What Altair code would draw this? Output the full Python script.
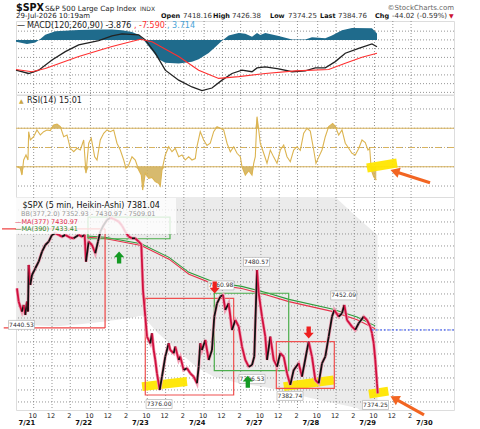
import altair as alt
import numpy as np
import pandas as pd

FONT = "DejaVu Sans"

# ---------------- data (x = trading sessions counted from the 7/21 open) ----------------
X_DOMAIN = [-0.204, 7.507]
DATES = ["7/21", "7/22", "7/23", "7/24", "7/27", "7/28", "7/29", "7/30"]
HOUR_LABELS = ["10", "12", "2"]
HOUR_OFFSETS = [0.107, 0.430, 0.751]

PRICE_T = [-0.187, -0.157, -0.099, -0.069, -0.040, -0.011, 0.007, 0.019, 0.048, 0.077,
           0.136, 0.195, 0.254, 0.312, 0.371, 0.430, 0.488, 0.547, 0.606, 0.664,
           0.752, 0.811, 0.899, 0.958, 1.005, 1.028, 1.075, 1.134, 1.192, 1.239,
           1.280, 1.340, 1.398, 1.456, 1.516, 1.604, 1.662, 1.720, 1.780, 1.838,
           1.896, 1.956, 2.002, 2.032, 2.072, 2.102, 2.160, 2.190, 2.220, 2.248,
           2.278, 2.326, 2.366, 2.424, 2.484, 2.512, 2.572, 2.600, 2.660, 2.688,
           2.748, 2.806, 2.864, 2.924, 2.982, 3.012, 3.040, 3.070, 3.129, 3.188,
           3.246, 3.287, 3.335, 3.393, 3.440, 3.481, 3.540, 3.599, 3.657, 3.717,
           3.775, 3.833, 3.893, 3.951, 3.991, 4.039, 4.069, 4.127, 4.185, 4.215,
           4.273, 4.333, 4.391, 4.449, 4.509, 4.567, 4.625, 4.685, 4.773, 4.831,
           4.919, 4.949, 5.007, 5.065, 5.125, 5.183, 5.241, 5.301, 5.359, 5.400,
           5.477, 5.535, 5.576, 5.623, 5.711, 5.769, 5.829, 5.917, 5.975, 6.033,
           6.063, 6.093, 6.121, 6.151, 6.164]
PRICE = [7464.7, 7453.6, 7445.3, 7450.8, 7442.5, 7453.6, 7445.3, 7484.2, 7467.5, 7475.8,
         7481.4, 7486.9, 7495.3, 7500.8, 7503.6, 7509.2, 7510.6, 7509.2, 7507.8, 7509.2,
         7506.9, 7506.4, 7509.2, 7507.8, 7509.2, 7486.9, 7503.6, 7500.8, 7493.9, 7503.6,
         7511.9, 7517.5, 7521.7, 7523.6, 7522.5, 7520.3, 7516.9, 7511.9, 7507.8, 7506.4,
         7506.4, 7503.6, 7501.4, 7463.3, 7441.1, 7424.4, 7418.9, 7427.2, 7413.3, 7405.0,
         7393.9, 7380.0, 7391.1, 7407.8, 7418.9, 7413.3, 7410.6, 7416.1, 7405.0, 7407.8,
         7396.7, 7398.1, 7393.9, 7391.1, 7385.6, 7399.4, 7418.9, 7413.3, 7421.7, 7405.0,
         7413.3, 7441.1, 7452.2, 7457.8, 7459.2, 7446.7, 7452.2, 7430.0, 7438.3, 7432.8,
         7416.1, 7405.0, 7399.4, 7400.8, 7407.8, 7480.0, 7460.6, 7441.1, 7424.4, 7405.0,
         7424.4, 7405.0, 7399.4, 7410.6, 7407.8, 7393.9, 7384.2, 7396.7, 7402.2, 7391.1,
         7413.3, 7420.3, 7407.8, 7388.3, 7385.6, 7402.2, 7407.8, 7424.4, 7441.1, 7446.7,
         7441.1, 7443.9, 7450.8, 7438.3, 7432.8, 7430.0, 7435.6, 7441.1, 7438.3, 7432.8,
         7427.2, 7418.9, 7405.0, 7385.6, 7377.2]

MA_T = [1.05, 1.36, 2.00, 2.49, 2.84, 3.30, 3.77, 4.21, 4.60, 5.36, 5.80, 6.12]
MA390 = [7508.3, 7507.3, 7501.8, 7490.5, 7478.0, 7469.5, 7466.3, 7461.0, 7455.5, 7447.5, 7440.8, 7433.4]
MA377 = [7507.3, 7506.2, 7500.4, 7489.0, 7476.5, 7467.8, 7464.6, 7459.2, 7453.6, 7445.5, 7438.6, 7431.0]

BB_T = [-0.204, 0.08, 0.52, 0.96, 1.36, 1.80, 2.02, 2.28, 2.63, 2.98, 3.28, 3.69, 4.22, 4.66, 5.18, 5.41, 5.80, 6.16]
BB_UPPER = [7566, 7568, 7570, 7572, 7572, 7571, 7570, 7570, 7568, 7565, 7562, 7558, 7554, 7550, 7545, 7541, 7524, 7509.01]
BB_LOWER = [7435, 7434, 7433, 7435, 7437, 7440, 7442, 7428, 7413, 7399, 7391, 7386, 7382, 7377, 7371, 7369, 7365, 7352.93]

HIST_T = [-0.204, -0.011, 0.136, 0.224, 0.312, 0.488, 0.900, 1.252, 1.486, 1.662,
          1.838, 1.956, 2.044, 2.190, 2.308, 2.424, 2.660, 2.894, 3.012, 3.188,
          3.305, 3.423, 3.540, 3.717, 3.833, 3.951, 4.039, 4.097, 4.185, 4.421,
          4.655, 4.889, 5.007, 5.241, 5.359, 5.535, 5.711, 6.063, 6.151]
HIST = [-1.0, -2.3, -1.5, 0.5, 3.0, 5.0, 5.7, 5.9, 5.9, 5.5,
        4.5, 3.0, 0.0, -6.0, -11.0, -13.0, -13.5, -12.5, -11.0, -7.5,
        -4.0, -0.5, 2.5, 4.0, 3.5, 1.8, 4.0, 2.8, 4.0, 2.2,
        0.3, 0.2, 1.5, 1.0, 2.5, 5.5, 6.8, 6.7, 3.7]
MACD_T = [-0.204, 0.019, 0.195, 0.430, 0.664, 0.900, 1.252, 1.486, 1.662, 1.956,
          2.072, 2.248, 2.424, 2.660, 2.894, 3.070, 3.246, 3.423, 3.599, 3.775,
          3.951, 4.039, 4.185, 4.421, 4.655, 4.889, 5.065, 5.241, 5.417, 5.593,
          5.829, 6.063, 6.151]
MACD_LINE = [-17.3, -19.2, -17.3, -11.5, -6.7, -2.9, -0.4, 2.3, 3.4, 2.9,
             0.0, -7.6, -17.3, -23.0, -26.9, -29.0, -27.5, -23.0, -19.2, -17.3,
             -18.2, -16.0, -15.4, -16.5, -18.2, -17.7, -16.0, -16.0, -12.4, -7.6,
             -4.8, -2.3, -3.9]
SIG_T = [-0.204, 0.077, 0.312, 0.900, 1.486, 1.985, 2.190, 2.660, 3.012, 3.364,
         3.717, 4.185, 4.713, 5.301, 5.593, 5.887, 6.151]
SIGNAL = [-16.9, -18.2, -16.3, -9.5, -3.8, 0.4, -1.0, -9.5, -17.3, -22.0,
          -21.0, -19.2, -17.7, -16.9, -13.3, -9.9, -7.6]

RSI_T = [-0.187, -0.128, -0.099, -0.069, -0.028, 0.007, 0.019, 0.048, 0.107, 0.165,
         0.224, 0.283, 0.342, 0.400, 0.460, 0.518, 0.576, 0.636, 0.694, 0.752,
         0.812, 0.870, 0.928, 0.988, 1.028, 1.076, 1.121, 1.181, 1.222, 1.280,
         1.340, 1.398, 1.456, 1.516, 1.574, 1.632, 1.692, 1.732, 1.780, 1.838,
         1.896, 1.956, 2.002, 2.026, 2.072, 2.132, 2.190, 2.248, 2.308, 2.336,
         2.366, 2.424, 2.484, 2.542, 2.600, 2.660, 2.718, 2.776, 2.836, 2.894,
         2.952, 2.982, 3.040, 3.100, 3.158, 3.216, 3.276, 3.335, 3.393, 3.452,
         3.511, 3.569, 3.629, 3.687, 3.745,
         3.775, 3.833, 3.893, 3.951, 3.981, 4.009, 4.039, 4.069, 4.097, 4.157,
         4.215, 4.273, 4.333, 4.391, 4.449, 4.509, 4.567, 4.625, 4.685, 4.743,
         4.801, 4.861, 4.919, 4.977, 5.037, 5.077, 5.125, 5.183, 5.241, 5.301,
         5.371, 5.417, 5.477, 5.535, 5.593, 5.653, 5.711, 5.769, 5.829, 5.887,
         5.945, 5.993, 6.023, 6.051, 6.093, 6.139]
RSI = [30, 28.4, 21.4, 37, 42.2, 37, 66.4, 57.8, 61.2, 68.2,
       63, 66.4, 68.2, 67.5, 73.4, 74.4, 71.6, 61.2, 63, 49.2,
       45.6, 49.2, 47.4, 57.8, 23.2, 54.4, 59.6, 40.4, 37, 57.8,
       64.8, 68.2, 66.4, 68.2, 54.4, 47.4, 37, 28.4, 31.8, 40.4,
       37, 26.6, 21.4, 5.8, 23.2, 18, 19, 14.5, 12.8, 10,
       26.6, 42.2, 50.8, 45.6, 49.2, 40.4, 42.2, 37, 40.4, 37,
       38.5, 50.8, 66.4, 57.8, 52, 54.4, 66.4, 71.6, 70, 68.2,
       54.4, 45.6, 50.8, 44, 40.4,
       30, 21.4, 26, 21.4, 33.6, 40.4, 82, 68.2, 54.4, 44,
       33.6, 47.4, 40, 33.6, 47.4, 52.6, 40.4, 35.2, 47.4, 50.8,
       47, 64.8, 70, 67, 47.4, 33.6, 40, 47.4, 61.2, 71.6,
       75, 72, 63, 68.2, 54.4, 49.2, 44, 42.2, 49, 57.8,
       55, 47.4, 49, 26.6, 19.7, 16.2]
RSI_LEVELS = [70, 30]
RSI_MID = [50]

# annotations
RECT_T1 = [1.063, 2.072, 3.287, 4.379]
RECT_T2 = [2.507, 3.628, 4.597, 5.400]
RECT_P1 = [7506.0, 7375.8, 7396.1, 7381.4]
RECT_P2 = [7524.0, 7456.4, 7460.6, 7420.3]
RECT_KIND = ["green", "red", "green", "red"]
R1_T0 = [-0.45, -0.42, 1.364]
R1_T1 = [1.364, 1.364, 1.364]
R1_P0 = [7514.2, 7431.7, 7431.7]
R1_P1 = [7514.2, 7431.7, 7514.2]

LABEL_TEXT = ["7440.53", "7376.00", "7460.98", "7480.57", "7396.53", "7382.74", "7452.09", "7374.25"]
LABEL_T = [-0.107, 2.315, 3.405, 4.030, 3.951, 4.620, 5.565, 6.125]
LABEL_P = [7434.2, 7368.3, 7467.1, 7486.7, 7389.2, 7375.0, 7458.8, 7367.5]

UP_ARROW_T = [1.611, 3.877]
UP_ARROW_P = [7490.4, 7386.8]
DOWN_ARROW_T = [3.294, 4.949]
DOWN_ARROW_P = [7465.4, 7427.9]

HL_T0 = [2.016, 4.510, 6.010]
HL_T1 = [2.806, 5.390, 6.350]
HL_P0 = [7382.8, 7382.8, 7376.5]
HL_P1 = [7387.0, 7388.3, 7379.0]
RSI_HL_T = [5.975, 6.503]
RSI_HL_V = [28.7, 33.9]

OR_PRICE_T = [6.979, 6.458]
OR_PRICE_P = [7359.2, 7373.0]
OR_RSI_T = [7.085, 6.465]
OR_RSI_V = [13.4, 25.1]

LAST_MA_T = [6.06, 7.507]
LAST_MA_P = 7430.0

MACD_TICKS = [-30, -25, -20, -15, -10, -5, 0, 5]
RSI_TICKS = [10, 30, 50, 70, 90]
PRICE_TICKS = list(range(7370, 7531, 10))

# ---------------- layout ----------------
W = 438
H1, H2, H3 = 73.5, 102, 213
tick_df = pd.DataFrame({
    "t": [d + o for d in range(len(DATES) - 1) for o in HOUR_OFFSETS],
    "s": [h for d in range(len(DATES) - 1) for h in HOUR_LABELS],
})
date_df = pd.DataFrame({"t": [d + HOUR_OFFSETS[0] for d in range(len(DATES))], "s": DATES})

xs = alt.Scale(domain=X_DOMAIN, nice=False, zero=False)
macd_s = alt.Scale(domain=[-31.2, 10.8], nice=False, zero=False)
rsi_s = alt.Scale(domain=[-1.4, 104.5], nice=False, zero=False)
price_s = alt.Scale(domain=[7363.3, 7540.8], nice=False, zero=False)

GRID = "#7a7a7a"


def yaxis(values):
    return alt.Axis(orient="right", values=values, title=None, ticks=False, domain=False,
                    labelFontSize=8, labelColor="#333", labelPadding=3, grid=False, labelFont=FONT)


def X(field):
    return alt.X(f"{field}:Q", scale=xs, axis=None, title=None)


def vgrid():
    return alt.Chart(tick_df).mark_rule(color=GRID, strokeWidth=1, strokeDash=[1, 2], opacity=0.8).encode(
        x=X("t"))


def hgrid(values, scale):
    return alt.Chart(pd.DataFrame({"v": values})).mark_rule(color=GRID, strokeWidth=1, opacity=0.8,
                                                            strokeDash=[1, 2]).encode(
        y=alt.Y("v:Q", scale=scale, axis=None))


ONE = pd.DataFrame({"k": [0]})


def txt(s, x, y, size=8, color="#222", weight="normal", align="left"):
    return alt.Chart(ONE).mark_text(text=s, align=align, baseline="alphabetic", fontSize=size,
                                    color=color, fontWeight=weight, font=FONT).encode(
        x=alt.value(x), y=alt.value(y))


# ---------------- MACD panel ----------------
hist_df = pd.DataFrame({"t": HIST_T, "h": HIST})
macd_df = pd.DataFrame({"t": MACD_T, "m": MACD_LINE})
sig_df = pd.DataFrame({"t": SIG_T, "s": SIGNAL})

macd_axis = alt.Chart(pd.DataFrame({"v": MACD_TICKS})).mark_rule(opacity=0).encode(
    y=alt.Y("v:Q", scale=macd_s, axis=yaxis(MACD_TICKS)))
hist = alt.Chart(hist_df).mark_area(color="#1f6b8c").encode(
    x=X("t"), y=alt.Y("h:Q", scale=macd_s, axis=None), y2=alt.datum(0))
macd_line = alt.Chart(macd_df).mark_line(color="#222222", strokeWidth=1.3).encode(
    x=X("t"), y=alt.Y("m:Q", scale=macd_s, axis=None))
sig_line = alt.Chart(sig_df).mark_line(color="#ff3030", strokeWidth=1.1).encode(
    x=X("t"), y=alt.Y("s:Q", scale=macd_s, axis=None))

header = [
    txt("$SPX", 0, -10.5, 9.6, "#111", "bold"),
    txt("S&P 500 Large Cap Index", 29, -10.5, 7.2, "#222"),
    txt("INDX", 124, -10.5, 6, "#333"),
    txt("©StockCharts.com", W, -11.5, 7, "#666", align="right"),
    txt("29-Jul-2026 10:19am", 0, -3, 7, "#222"),
    txt("Open", 145, -3, 6.5, "#111", "bold"), txt("7418.16", 167, -3, 7, "#333"),
    txt("High", 197, -3, 6.5, "#111", "bold"), txt("7426.38", 216, -3, 7, "#333"),
    txt("Low", 254, -3, 6.5, "#111", "bold"), txt("7374.25", 272, -3, 7, "#333"),
    txt("Last", 304, -3, 6.5, "#111", "bold"), txt("7384.76", 322, -3, 7, "#333"),
    txt("Chg", 359, -3, 6.5, "#111", "bold"), txt("-44.02 (-0.59%)", 376, -3, 7, "#333"),
    txt("▼", 433, -3, 6, "#cc1133"),
    txt("—", 1, 7, 8, "#111"),
    txt("MACD(120,260,90) -3.876", 11, 7, 8, "#222"),
    txt(", -7.590", 118, 7, 8, "#ff3030"),
    txt(", 3.714", 151, 7, 8, "#4aa3d8"),
]
panel_macd = alt.layer(macd_axis, vgrid(), hgrid(MACD_TICKS, macd_s), hist, macd_line, sig_line,
                       *header).properties(width=W, height=H1)

# ---------------- RSI panel ----------------
rsi_df = pd.DataFrame({"t": RSI_T, "v": RSI})
rsi_axis = alt.Chart(pd.DataFrame({"v": RSI_TICKS})).mark_rule(opacity=0).encode(
    y=alt.Y("v:Q", scale=rsi_s, axis=yaxis(RSI_TICKS)))
fill_lo = alt.Chart(rsi_df).transform_calculate(lo="min(datum.v, 30)").mark_area(
    color="#d0ae55", opacity=0.85).encode(
    x=X("t"), y=alt.Y("lo:Q", scale=rsi_s, axis=None), y2=alt.datum(30))
fill_hi = alt.Chart(rsi_df).transform_calculate(hi="max(datum.v, 70)").mark_area(
    color="#d0ae55", opacity=0.85).encode(
    x=X("t"), y=alt.Y("hi:Q", scale=rsi_s, axis=None), y2=alt.datum(70))
lvl = alt.Chart(pd.DataFrame({"l": RSI_LEVELS})).mark_rule(color="#d8b35e", strokeWidth=1.2).encode(
    y=alt.Y("l:Q", scale=rsi_s, axis=None))
mid = alt.Chart(pd.DataFrame({"l": RSI_MID})).mark_rule(color="#d8b35e", strokeWidth=1.1,
                                                         strokeDash=[6, 3, 1, 3]).encode(
    y=alt.Y("l:Q", scale=rsi_s, axis=None))
rsi_line = alt.Chart(rsi_df).mark_line(color="#dcb450", strokeWidth=1.1).encode(
    x=X("t"), y=alt.Y("v:Q", scale=rsi_s, axis=None))
rsi_hl = alt.Chart(pd.DataFrame({"t0": [RSI_HL_T[0]], "t1": [RSI_HL_T[1]],
                                 "v0": [RSI_HL_V[0]], "v1": [RSI_HL_V[1]]})).mark_rule(
    color="#ffe600", strokeWidth=9, strokeCap="butt", opacity=0.95).encode(
    x=X("t0"), x2="t1:Q", y=alt.Y("v0:Q", scale=rsi_s, axis=None), y2="v1:Q")
or_rsi_df = pd.DataFrame({"t0": [OR_RSI_T[0]], "t1": [OR_RSI_T[1]], "v0": [OR_RSI_V[0]], "v1": [OR_RSI_V[1]]})
or_rsi = alt.Chart(or_rsi_df).mark_rule(color="#f26522", strokeWidth=3).encode(
    x=X("t0"), x2="t1:Q", y=alt.Y("v0:Q", scale=rsi_s, axis=None), y2="v1:Q")
or_rsi_head = alt.Chart(or_rsi_df).mark_point(shape="triangle-up", angle=287.6, size=110, filled=True,
                                              opacity=1, color="#f26522").encode(
    x=X("t1"), y=alt.Y("v1:Q", scale=rsi_s, axis=None))
rsi_texts = [txt("▲", 3, 8.3, 6, "#c9a545"), txt("RSI(14) 15.01", 11, 8.3, 8, "#222")]
panel_rsi = alt.layer(rsi_axis, vgrid(), hgrid(RSI_TICKS, rsi_s), fill_lo, fill_hi, lvl, mid, rsi_line,
                      rsi_hl, or_rsi, or_rsi_head, *rsi_texts).properties(width=W, height=H2)

# ---------------- price panel ----------------
price_axis = alt.Chart(pd.DataFrame({"v": PRICE_TICKS})).mark_rule(opacity=0).encode(
    y=alt.Y("v:Q", scale=price_s, axis=yaxis(PRICE_TICKS)))
bb_df = pd.DataFrame({"t": BB_T, "lo": BB_LOWER, "hi": BB_UPPER})
band = alt.Chart(bb_df).mark_area(color="#ebebeb", clip=True).encode(
    x=X("t"), y=alt.Y("lo:Q", scale=price_s, axis=None), y2="hi:Q")

ma_df = pd.DataFrame({"t": MA_T, "g": MA390, "r": MA377})
ma_g = alt.Chart(ma_df).mark_line(color="#2e9a3a", strokeWidth=1.1).encode(
    x=X("t"), y=alt.Y("g:Q", scale=price_s, axis=None))
ma_r = alt.Chart(ma_df).mark_line(color="#e6334a", strokeWidth=1.1).encode(
    x=X("t"), y=alt.Y("r:Q", scale=price_s, axis=None))

hl_df = pd.DataFrame({"t0": HL_T0, "t1": HL_T1, "p0": HL_P0, "p1": HL_P1})
hl = alt.Chart(hl_df).mark_rule(color="#ffe600", strokeWidth=9, strokeCap="butt", opacity=0.95).encode(
    x=X("t0"), x2="t1:Q", y=alt.Y("p0:Q", scale=price_s, axis=None), y2="p1:Q")

rect_df = pd.DataFrame({"t1": RECT_T1, "t2": RECT_T2, "p1": RECT_P1, "p2": RECT_P2, "k": RECT_KIND})
rects = alt.Chart(rect_df).mark_rect(fillOpacity=0, strokeWidth=1.2).encode(
    x=X("t1"), x2="t2:Q", y=alt.Y("p1:Q", scale=price_s, axis=None), y2="p2:Q",
    stroke=alt.Stroke("k:N", scale=alt.Scale(domain=["red", "green"], range=["#ef5050", "#4cae4c"]),
                      legend=None))
r1_df = pd.DataFrame({"t0": R1_T0, "t1": R1_T1, "p0": R1_P0, "p1": R1_P1})
r1 = alt.Chart(r1_df).mark_rule(color="#ef4444", strokeWidth=1.2).encode(
    x=X("t0"), x2="t1:Q", y=alt.Y("p0:Q", scale=price_s, axis=None), y2="p1:Q")

price_df = pd.DataFrame({"t": PRICE_T, "p": PRICE})
halo = alt.Chart(price_df).mark_line(color="#f0a0b4", strokeWidth=3.2).encode(
    x=X("t"), y=alt.Y("p:Q", scale=price_s, axis=None))
seg_df = pd.DataFrame({"t0": PRICE_T[:-1], "p0": PRICE[:-1], "t1": PRICE_T[1:], "p1": PRICE[1:]})
seg_df["dir"] = np.where(seg_df["p1"] >= seg_df["p0"], "up", "down")
segs = alt.Chart(seg_df).mark_rule(strokeWidth=1.8).encode(
    x=X("t0"), x2="t1:Q", y=alt.Y("p0:Q", scale=price_s, axis=None), y2="p1:Q",
    color=alt.Color("dir:N", scale=alt.Scale(domain=["up", "down"], range=["#111111", "#d0103f"]),
                    legend=None))

last_ma = alt.Chart(pd.DataFrame({"t0": [LAST_MA_T[0]], "t1": [LAST_MA_T[1]], "p": [LAST_MA_P]})).mark_rule(
    color="#3050ff", strokeWidth=1, strokeDash=[2, 2]).encode(
    x=X("t0"), x2="t1:Q", y=alt.Y("p:Q", scale=price_s, axis=None))

lab_df = pd.DataFrame({"t": LABEL_T, "p": LABEL_P, "s": LABEL_TEXT})
lab_box = alt.Chart(lab_df).mark_rect(fill="white", stroke="#a8a8a8", strokeWidth=0.6,
                                      xOffset=-13, x2Offset=13, yOffset=-4.5, y2Offset=4.5).encode(
    x=X("t"), x2="t:Q", y=alt.Y("p:Q", scale=price_s, axis=None), y2="p:Q")
lab_txt = alt.Chart(lab_df).mark_text(fontSize=6, color="#333", baseline="middle", font=FONT).encode(
    x=X("t"), y=alt.Y("p:Q", scale=price_s, axis=None), text="s:N")

UP_PATH = "M-0.36,1L0.36,1L0.36,-0.05L0.85,-0.05L0,-1L-0.85,-0.05L-0.36,-0.05Z"
DOWN_PATH = "M-0.36,-1L0.36,-1L0.36,0.05L0.85,0.05L0,1L-0.85,0.05L-0.36,0.05Z"
up_arrows = alt.Chart(pd.DataFrame({"t": UP_ARROW_T, "p": UP_ARROW_P})).mark_point(
    shape=UP_PATH, filled=True, opacity=1, size=144, color="#159a24").encode(
    x=X("t"), y=alt.Y("p:Q", scale=price_s, axis=None))
down_arrows = alt.Chart(pd.DataFrame({"t": DOWN_ARROW_T, "p": DOWN_ARROW_P})).mark_point(
    shape=DOWN_PATH, filled=True, opacity=1, size=144, color="#ee2020").encode(
    x=X("t"), y=alt.Y("p:Q", scale=price_s, axis=None))

or_p_df = pd.DataFrame({"t0": [OR_PRICE_T[0]], "t1": [OR_PRICE_T[1]], "p0": [OR_PRICE_P[0]], "p1": [OR_PRICE_P[1]]})
or_p = alt.Chart(or_p_df).mark_rule(color="#f26522", strokeWidth=3).encode(
    x=X("t0"), x2="t1:Q", y=alt.Y("p0:Q", scale=price_s, axis=None), y2="p1:Q")
or_p_head = alt.Chart(or_p_df).mark_point(shape="triangle-up", angle=299, size=110, filled=True,
                                          opacity=1, color="#f26522").encode(
    x=X("t1"), y=alt.Y("p1:Q", scale=price_s, axis=None))

legend_box = alt.Chart(ONE).mark_rect(fill="white", opacity=0.8).encode(
    x=alt.value(0), x2=alt.value(160), y=alt.value(1), y2=alt.value(37))
legend_txt = [
    txt("$SPX (5 min, Heikin-Ashi) 7381.04", 6.5, 11.3, 8, "#111"),
    txt("BB(377,2.0) 7352.93 - 7430.97 - 7509.01", 5, 19, 6.5, "#999"),
    txt("—MA(377) 7430.97", -1, 26.5, 6.5, "#e0294a"),
    txt("—MA(390) 7433.41", -1, 34, 6.5, "#2e8b2e"),
]
hour_txt = alt.Chart(tick_df).mark_text(fontSize=6.5, color="#222", align="center", baseline="alphabetic",
                                        dx=-1, font=FONT).encode(
    x=X("t"), y=alt.value(H3 + 7.5), text="s:N")
date_txt = alt.Chart(date_df).mark_text(fontSize=6.8, fontWeight="bold", color="#111", align="right",
                                        baseline="alphabetic", dx=1.5, font=FONT).encode(
    x=X("t"), y=alt.value(H3 + 14.5), text="s:N")

panel_price = alt.layer(price_axis, band, vgrid(), hgrid(PRICE_TICKS, price_s), hl, ma_g, ma_r, rects, r1,
                        halo, segs, last_ma, lab_box, lab_txt, up_arrows, down_arrows, or_p, or_p_head,
                        legend_box, *legend_txt, hour_txt, date_txt).properties(width=W, height=H3)

chart = alt.vconcat(panel_macd, panel_rsi, panel_price, spacing=0, bounds="flush").properties(
    padding={"left": 0, "top": 2, "right": 2, "bottom": 0}
).configure_view(stroke="#aaaaaa", strokeWidth=1).configure(font=FONT)

chart.save("out.html", embed_options={"renderer": "svg", "actions": False})
